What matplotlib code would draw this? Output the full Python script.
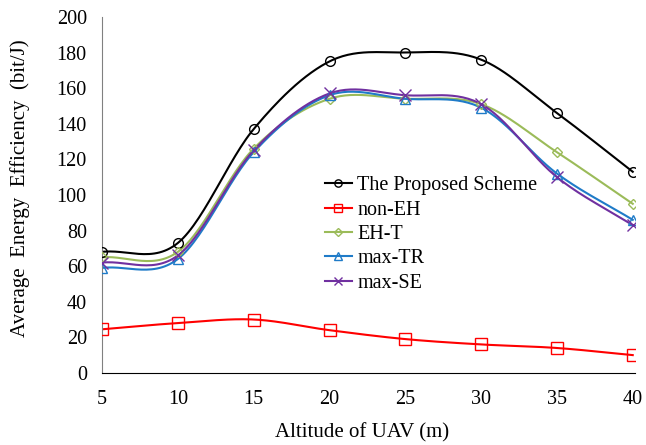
import matplotlib
matplotlib.use("Agg")
import matplotlib.pyplot as plt
from matplotlib.lines import Line2D
import numpy as np

plt.rcParams['font.family'] = ['Liberation Serif', 'DejaVu Serif']

altitude = [5, 10, 15, 20, 25, 30, 35, 40]
proposed = [68, 73, 137, 175, 180, 176, 146, 113]
non_eh = [24.5, 28, 30, 24, 19, 16, 14, 10]
eh_t = [65, 68, 126, 154, 154, 151, 124, 95]
max_tr = [59, 64, 124, 156, 154, 149, 112, 86]
max_se = [62, 66, 125, 157, 156, 151, 110, 83]

names = ["The Proposed Scheme", "non-EH", "EH-T", "max-TR", "max-SE"]
series = [proposed, non_eh, eh_t, max_tr, max_se]
colors = ["#000000", "#ff0000", "#9bbb59", "#1f7bc8", "#7030a0"]
markers = ["o", "s", "D", "^", "x"]
msizes = [7, 8, 5, 7, 8]


def smooth(x, y, n=30):
    # catmull-rom style curve, like excel's smoothed lines
    x = np.asarray(x, float)
    y = np.asarray(y, float)
    px = np.concatenate([[2 * x[0] - x[1]], x, [2 * x[-1] - x[-2]]])
    py = np.concatenate([[2 * y[0] - y[1]], y, [2 * y[-1] - y[-2]]])
    xs, ys = [], []
    t = np.linspace(0, 1, n)
    for i in range(1, len(px) - 2):
        for p, out in ((px, xs), (py, ys)):
            p0, p1, p2, p3 = p[i - 1], p[i], p[i + 1], p[i + 2]
            seg = 0.5 * ((2 * p1) + (-p0 + p2) * t
                         + (2 * p0 - 5 * p1 + 4 * p2 - p3) * t ** 2
                         + (-p0 + 3 * p1 - 3 * p2 + p3) * t ** 3)
            out.extend(seg)
    return np.array(xs), np.array(ys)


fig = plt.figure(figsize=(6.46, 4.45), dpi=100)
ax = fig.add_axes([0.158, 0.162, 0.825, 0.8])

handles = []
for name, y, c, m, ms in zip(names, series, colors, markers, msizes):
    sx, sy = smooth(altitude, y)
    ax.plot(sx, sy, color=c, lw=1.5, zorder=2)
    ax.plot(altitude, y, ls='none', marker=m, ms=ms, mfc='none', mec=c,
            mew=1.0, zorder=3)
    handles.append(Line2D([], [], color=c, lw=1.5, marker=m, ms=ms,
                          mfc='none', mec=c, mew=1.0, label=name))

ax.set_xlim(5, 40.15)
ax.set_ylim(0, 200)
ax.set_xticks(altitude)
ax.set_yticks(range(0, 201, 20))
ax.tick_params(length=0, labelsize=14.5)
ax.tick_params(axis='x', pad=12)
ax.tick_params(axis='y', pad=11)
for s in ['top', 'right']:
    ax.spines[s].set_visible(False)
ax.spines['left'].set_color('#808080')
ax.spines['bottom'].set_color('black')

ax.set_xlabel("Altitude of UAV (m)", fontsize=15)
ax.xaxis.set_label_coords(0.488, -0.14)
ax.set_ylabel("Average  Energy  Efficiency  (bit/J)", fontsize=15)
ax.yaxis.set_label_coords(-0.135, 0.52)

ax.legend(handles=handles, loc='upper left', bbox_to_anchor=(0.418, 0.552),
          frameon=False, fontsize=14.5, handlelength=1.35, handletextpad=0.25,
          labelspacing=0.26, borderaxespad=0, borderpad=0, markerscale=0.75)

fig.savefig("out.png", dpi=100)
